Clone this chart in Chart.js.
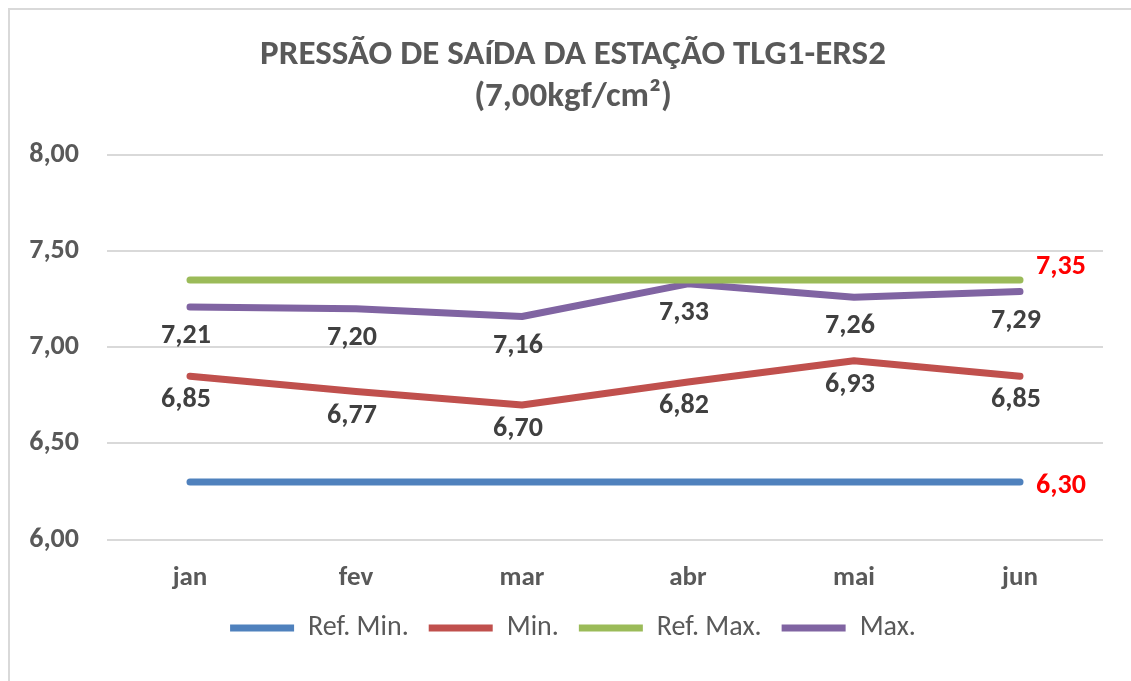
<!DOCTYPE html>
<html>
<head>
    <title>Pressão de saída</title>
    <script src="https://cdn.jsdelivr.net/npm/chart.js"></script>
    <style>
        body { margin: 0; background: #fff; overflow: hidden; }
        .frame { position: absolute; left: 8px; top: 8px; width: 1140px; height: 700px; border: 2px solid #d9d9d9; }
        #pressChart { position: absolute; left: 0; top: 0; }
    </style>
</head>
<body>
    <div class="frame"></div>
    <canvas id="pressChart" width="1131" height="681"></canvas>
    <script>
        // data
        const months = ['jan', 'fev', 'mar', 'abr', 'mai', 'jun'];
        const refMin = [6.30, 6.30, 6.30, 6.30, 6.30, 6.30];
        const minVals = [6.85, 6.77, 6.70, 6.82, 6.93, 6.85];
        const refMax = [7.35, 7.35, 7.35, 7.35, 7.35, 7.35];
        const maxVals = [7.21, 7.20, 7.16, 7.33, 7.26, 7.29];
        const yTicks = [6.0, 6.5, 7.0, 7.5, 8.0];

        const FONT = 'Carlito, "Liberation Sans Narrow", "Open Sans", sans-serif';
        const fmt = v => v.toFixed(2).replace('.', ',');

        // value labels: below the point for Min/Max, only the last point (in red) for the refs
        const valueLabels = {
            id: 'valueLabels',
            afterLayout(chart) {
                // the Excel chart centres title and legend on the whole frame, not the plot
                chart.titleBlock.left += 43;
                chart.legend.left += 43;
                chart.legend.top -= 22;
            },
            afterDatasetsDraw(chart) {
                const ctx = chart.ctx;
                ctx.save();
                ctx.textAlign = 'center';
                ctx.textBaseline = 'middle';
                ctx.font = 'bold 28px ' + FONT;
                chart.data.datasets.forEach((ds, i) => {
                    const meta = chart.getDatasetMeta(i);
                    meta.data.forEach((pt, j) => {
                        const v = ds.data[j];
                        if (ds.isRef) {
                            if (j !== ds.data.length - 1) return;
                            ctx.fillStyle = '#ff0000';
                            ctx.fillText(fmt(v), pt.x + 41, pt.y + ds.labelDy);
                        } else {
                            ctx.fillStyle = '#404040';
                            ctx.fillText(fmt(v), pt.x - 4, pt.y + ds.labelDy);
                        }
                    });
                });
                ctx.restore();
            }
        };

        function line(label, data, color, isRef, labelDy) {
            return {
                label: label,
                data: data,
                borderColor: color,
                backgroundColor: color,
                borderWidth: 7,
                borderCapStyle: 'round',
                borderJoinStyle: 'round',
                pointRadius: 0,
                pointStyle: 'line',
                tension: 0,
                isRef: isRef,
                labelDy: labelDy
            };
        }

        const ctx = document.getElementById('pressChart').getContext('2d');
        const chart = new Chart(ctx, {
            type: 'line',
            data: {
                labels: months,
                datasets: [
                    line('Ref. Min.', refMin, '#4f81bd', true, 4),
                    line('Min.', minVals, '#c0504d', false, 24),
                    line('Ref. Max.', refMax, '#9bbb59', true, -13),
                    line('Max.', maxVals, '#8064a2', false, 29)
                ]
            },
            options: {
                responsive: false,
                animation: false,
                layout: { padding: { left: 0, right: 28, top: 20, bottom: 7 } },
                plugins: {
                    title: {
                        display: true,
                        text: ['PRESSÃO DE SAíDA DA ESTAÇÃO TLG1-ERS2', '(7,00kgf/cm²)'],
                        color: '#595959',
                        font: { family: FONT, size: 35, weight: 'bold', lineHeight: 1.2 },
                        padding: { top: 14, bottom: 37 }
                    },
                    legend: {
                        position: 'bottom',
                        labels: {
                            usePointStyle: true,
                            pointStyleWidth: 64,
                            color: '#595959',
                            font: { family: FONT, size: 28 },
                            padding: 20
                        }
                    },
                    tooltip: { enabled: false }
                },
                scales: {
                    x: {
                        offset: true,
                        grid: { display: false, drawTicks: false },
                        border: { display: false },
                        ticks: { color: '#595959', font: { family: FONT, size: 27, weight: 'bold' }, padding: 22 }
                    },
                    y: {
                        min: 6,
                        max: 8,
                        afterBuildTicks: s => { s.ticks = yTicks.map(v => ({ value: v })); },
                        afterFit: s => { s.width = 107; },
                        grid: { color: '#d9d9d9', lineWidth: 2, drawTicks: false },
                        border: { display: false },
                        ticks: {
                            color: '#595959',
                            font: { family: FONT, size: 28, weight: 'bold' },
                            padding: 28,
                            callback: v => fmt(v)
                        }
                    }
                }
            },
            plugins: [valueLabels]
        });
    </script>
</body>
</html>
